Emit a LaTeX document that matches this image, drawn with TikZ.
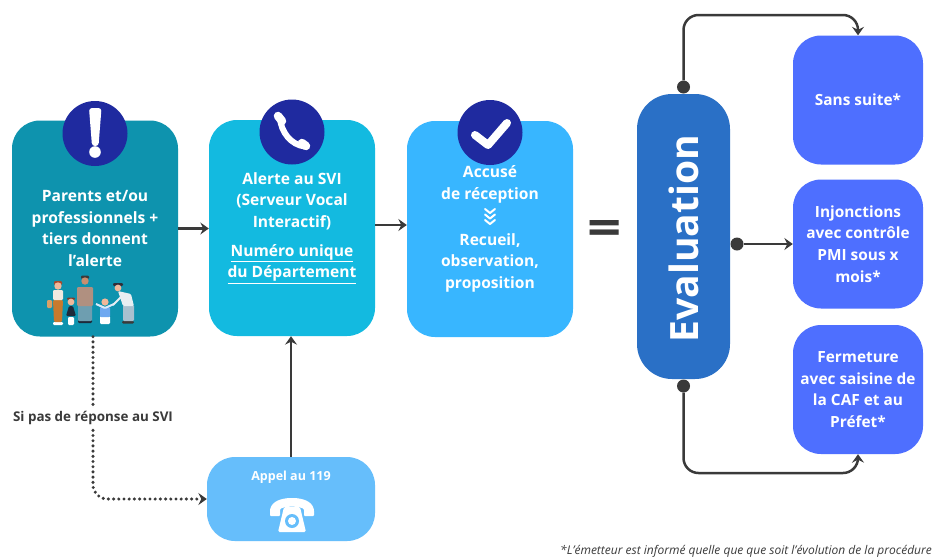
\documentclass[tikz,border=0pt]{standalone}
\usepackage{fontspec}
\setmainfont{Open Sans}
\usetikzlibrary{arrows.meta}
\definecolor{boxa}{HTML}{0E93AE}
\definecolor{boxb}{HTML}{13BAE0}
\definecolor{boxc}{HTML}{38B6FF}
\definecolor{boxd}{HTML}{66BEFB}
\definecolor{evalc}{HTML}{2A70C6}
\definecolor{outc}{HTML}{4E6FFF}
\definecolor{disc}{HTML}{1F2A9F}
\definecolor{ink}{HTML}{3A3A3A}
\definecolor{skin}{HTML}{F0B89A}
\definecolor{skintwo}{HTML}{C98E6E}
\definecolor{trouser}{HTML}{C77A2E}
\definecolor{cream}{HTML}{F2E9E0}
\definecolor{bag}{HTML}{D9A066}
\definecolor{auburn}{HTML}{A44A2E}
\definecolor{brownhair}{HTML}{7E3B2A}
\definecolor{navyd}{HTML}{1E2A3A}
\definecolor{jeans}{HTML}{6E9EB0}
\definecolor{taupe}{HTML}{B09080}
\definecolor{shirtb}{HTML}{6FA8F0}
\definecolor{sleeve}{HTML}{D9EAFA}
\definecolor{jeanslight}{HTML}{A9C0CF}
\definecolor{topw}{HTML}{E8EEF2}
\definecolor{hairdark}{HTML}{2E2E3A}
\tikzset{
  box/.style={fill=#1,rounded corners=28pt,minimum width=166pt,minimum height=216pt,inner sep=0pt,
    text=white,align=center,font=\fontsize{15.6}{21.7}\selectfont\bfseries},
  outbox/.style={fill=outc,rounded corners=28pt,minimum width=130pt,minimum height=129pt,inner sep=0pt,
    text=white,align=center,font=\fontsize{15.4}{21.7}\selectfont\bfseries},
  disk/.style={circle,fill=disc,minimum size=65pt,inner sep=0pt},
  dotm/.style={circle,fill=ink,minimum size=13pt,inner sep=0pt},
  conn/.style={draw=ink,line width=2.5pt,-{Stealth[length=8.5pt,width=12pt,inset=3pt]}},
  dotconn/.style={draw=ink,line width=3.4pt,line cap=round,dash pattern=on 0pt off 5.2pt,rounded corners=14pt,
    -{Stealth[length=8.5pt,width=12pt,inset=3pt]}},
  glyph/.style={white,line cap=round,line join=round},
}
\begin{document}
\begin{tikzpicture}[x=1pt,y=-1pt]
\useasboundingbox (0,0) rectangle (936,558);
\fill[white] (0,0) rectangle (936,558);
% boxes
\node[box=boxa] (A) at (95,228.5) {Parents et/ou\\professionnels +\\tiers donnent\\l’alerte};
\node[box=boxb] (B) at (292,228) {Alerte au SVI\\(Serveur Vocal\\Interactif)\\[7pt]\underline{Numéro unique}\\\underline{du Département}};
\node[box=boxc] (C) at (490,229) {Accusé\\de réception\\[24pt]Recueil,\\observation,\\proposition};
\node[box=boxd,minimum width=168pt,minimum height=84pt] (D) at (291,499) {};
\node[text=white,font=\fontsize{12.5}{14}\selectfont\bfseries] (Dt) at (291,477) {Appel au 119};
\node[fill=evalc,rounded corners=35pt,minimum width=93pt,minimum height=285pt,inner sep=0pt] (E) at (683.5,236.5)
  {\rotatebox{90}{\fontsize{39}{42}\selectfont\bfseries\color{white}Evaluation\hspace{4pt}}};
\node[outbox] (S) at (858,100) {Sans suite*};
\node[outbox] (I) at (858,244) {Injonctions\\avec contrôle\\PMI sous x\\mois*};
\node[outbox] (F) at (858,389.5) {Fermeture\\avec saisine de\\la CAF et au\\Préfet*};
% disks
\node[disk] (ca) at (95,133.5) {};
\node[disk] (cb) at (292,132) {};
\node[disk] (cc) at (490,132.5) {};
% exclamation
\fill[white,rounded corners=3pt] (89,108) -- (101.5,108) -- (98.5,146) -- (92,146) -- cycle;
\fill[white] (95,152) circle (5.8pt);
% handset
\draw[glyph,line width=6pt] (280,118) .. controls (281,132) and (291,145) .. (305,146.5);
\draw[glyph,line width=8.5pt] (278,116) -- (282,121);
\draw[glyph,line width=8.5pt] (302,143) -- (306,146);
% check mark
\draw[glyph,line width=8pt] (475,135) -- (488,145) -- (507,123);
% chevrons
\foreach \yy in {209,214.5,220}{
  \draw[glyph,line width=2pt] (485,\yy) -- (490,\yy+4) -- (495,\yy);
}
% family
\begin{scope}[rounded corners=1.2pt]
\fill[white] (53,322) rectangle (63,325);
\fill[trouser] (53,300) -- (63,300) -- (62,322) -- (54,322) -- cycle;
\fill[cream] (53,290) rectangle (63,300);
\fill[bag] (47,300) rectangle (52,308);
\fill[auburn] (54,281) rectangle (62,285);
\fill[skin] (58,286) circle (3.7pt);
\fill[white] (68,317) rectangle (74,325);
\fill[navyd] (66,316) -- (76,316) -- (73,306) -- (69,306) -- cycle;
\fill[brownhair] (67,297.5) rectangle (75,300);
\fill[skin] (71,302) circle (3.4pt);
\fill[navyd] (78,320) rectangle (92,323);
\fill[jeans] (78,304) rectangle (92,321);
\fill[taupe] (77,287) rectangle (93,306);
\fill[ink] (81,275.5) rectangle (89,279);
\fill[skintwo] (85,281) circle (3.7pt);
\fill[white] (100,316) rectangle (110,324);
\fill[shirtb] (100,307) rectangle (110,317);
\draw[sleeve,line width=2pt] (96,304) -- (105,308) -- (114,304);
\fill[skin] (105,302) circle (3.6pt);
\fill[ink] (122,321) rectangle (134,323.5);
\fill[jeanslight] (123,305) rectangle (134,321);
\fill[topw] (118,291) -- (131,294) -- (134,306) -- (123,306) -- cycle;
\draw[topw,line width=2pt] (122,296) -- (113,305);
\fill[hairdark] (113,283) rectangle (123,286);
\fill[skin] (118,288) circle (3.4pt);
\end{scope}
% telephone
\fill[white,rounded corners=1pt] (270,516) -- (270,510) .. controls (272,501) and (282,498) .. (292,498) .. controls (302,498) and (312,501) .. (314,510) -- (314,516) -- (304,516) -- (304,509) .. controls (298,506) and (286,506) .. (280,509) -- (280,516) -- cycle;
\fill[white,rounded corners=1.5pt] (284,507) -- (300,507) -- (306,532) -- (278,532) -- cycle;
\fill[boxd] (292,521) circle (7pt);
\fill[white] (292,521) circle (4pt);
% equals
\node[text=ink,font=\fontsize{50}{50}\selectfont\bfseries,xscale=1.2] (eq) at (605,232.5) {=};
% connectors
\draw[conn] (A.east) -- (A.east -| B.west);
\coordinate (bc) at ([yshift=3pt]B.east);
\draw[conn] (bc) -- (bc -| C.west);
\draw[conn] (D.north) -- (D.north |- B.south);
\coordinate (t1) at ([xshift=-2pt]A.south);
\draw[dotconn] (t1) -- (t1 |- D.west) -- (D.west);
\node[fill=white,text=ink,inner xsep=1pt,inner ysep=3pt,font=\fontsize{13.4}{15}\selectfont\bfseries] (L) at (93,418) {Si pas de réponse au SVI};
\node[dotm] (d1) at (683.5,87) {};
\node[dotm] (d2) at (737,244) {};
\node[dotm] (d3) at (683.5,386) {};
\coordinate (u1) at (683.5,15);
\coordinate (u3) at (683.5,473);
\draw[conn,rounded corners=15pt] (d1) -- (u1) -- (u1 -| S.north) -- (S.north);
\draw[conn] (d2) -- (I.west);
\draw[conn,rounded corners=15pt] (d3) -- (u3) -- (u3 -| F.south) -- (F.south);
% footnote
\node[anchor=west,inner sep=0pt,text=ink,font=\fontsize{12}{14}\selectfont\itshape] (N) at (560,551) {*L’émetteur est informé quelle que que soit l’évolution de la procédure};
\end{tikzpicture}
\end{document}
